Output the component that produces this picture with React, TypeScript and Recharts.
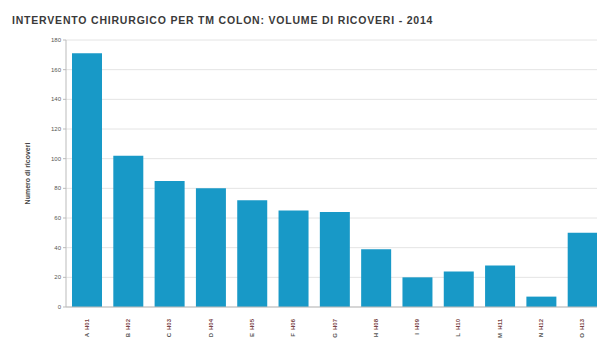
import React from 'react';
import { Bar, BarChart, CartesianGrid, XAxis, YAxis } from 'recharts';

// strutture (etichette illeggibili nell'originale: codici brevi)
const strutture = ['H01', 'H02', 'H03', 'H04', 'H05', 'H06', 'H07', 'H08', 'H09', 'H10', 'H11', 'H12', 'H13'];
const sottoEtichette = ['A', 'B', 'C', 'D', 'E', 'F', 'G', 'H', 'I', 'L', 'M', 'N', 'O'];
const ricoveri = [171, 102, 85, 80, 72, 65, 64, 39, 20, 24, 28, 7, 50];
const yTicks = [0, 20, 40, 60, 80, 100, 120, 140, 160, 180];

const data = strutture.map((s, i) => ({ name: s, sub: sottoEtichette[i], value: ricoveri[i] }));

const FONT = 'Arial, "Liberation Sans", sans-serif';

function XTick(props: any) {
  const { x, y, payload, index } = props;
  const sub = sottoEtichette[index] ?? '';
  return (
    <g transform={`translate(${x},${y})`}>
      <text
        transform="rotate(-90)"
        x={-4}
        y={2}
        textAnchor="end"
        fontSize={6}
        fontWeight="bold"
        fill="#7a4646"
        fontFamily={FONT}
      >
        {payload.value}
      </text>
      <text
        transform="rotate(-90)"
        x={-18}
        y={2}
        textAnchor="end"
        fontSize={6}
        fontWeight="bold"
        fill="#555"
        fontFamily={FONT}
      >
        {sub}
      </text>
    </g>
  );
}

export default function App() {
  return (
    <div
      style={{
        position: 'absolute',
        left: 0,
        top: 0,
        width: 597,
        height: 344,
        overflow: 'hidden',
        background: '#fff',
      }}
    >
      <div
        style={{
          position: 'absolute',
          left: 12,
          top: 14,
          fontFamily: FONT,
          fontSize: 10.5,
          lineHeight: '12px',
          fontWeight: 'bold',
          color: '#3a3a3a',
          letterSpacing: 0.8,
          whiteSpace: 'nowrap',
        }}
      >
        INTERVENTO CHIRURGICO PER TM COLON: VOLUME DI RICOVERI - 2014
      </div>
      <BarChart
        width={603}
        height={344}
        data={data}
        margin={{ top: 40, right: 0, left: 0, bottom: 0 }}
      >
        <CartesianGrid vertical={false} stroke="#e4e4e4" />
        <XAxis
          dataKey="name"
          height={37}
          interval={0}
          tick={<XTick />}
          tickLine={false}
          axisLine={{ stroke: '#bbb' }}
        />
        <YAxis
          width={66}
          domain={[0, 180]}
          ticks={yTicks}
          tick={{ fontSize: 6, fill: '#555', fontFamily: FONT }}
          tickLine={{ stroke: '#bbb' }}
          tickSize={3}
          axisLine={{ stroke: '#bbb' }}
          label={{
            value: 'Numero di ricoveri',
            angle: -90,
            position: 'insideLeft',
            offset: 28,
            style: { fontSize: 7, fontWeight: 'bold', fill: '#444', fontFamily: FONT, textAnchor: 'middle' },
          }}
        />
        <Bar dataKey="value" fill="#1899c7" barSize={30} isAnimationActive={false} />
      </BarChart>
    </div>
  );
}
